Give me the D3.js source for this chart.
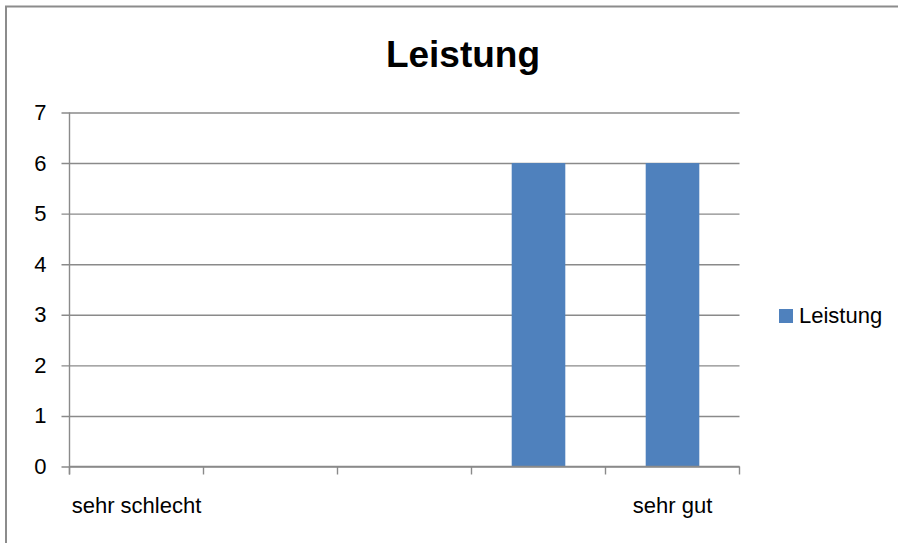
<!DOCTYPE html>
<html>
<head>
<meta charset="utf-8">
<script src="https://cdn.jsdelivr.net/npm/d3@7"></script>
<style>
  html, body { margin: 0; padding: 0; background: #fff; }
  svg { display: block; }
  text { font-family: "Liberation Sans", Arial, sans-serif; fill: #000; }
</style>
</head>
<body>
<svg id="chart" width="898" height="543"></svg>
<script>
const title = "Leistung";
const seriesName = "Leistung";
const categories = ["sehr schlecht", "", "", "", "sehr gut"];
const values = [0, 0, 0, 6, 6];
const yTicks = [0, 1, 2, 3, 4, 5, 6, 7];

const svg = d3.select("#chart");
const W = 898, H = 543;
const plot = { left: 69.5, right: 739.5, top: 112.5, bottom: 466.5 };
const gridColor = "#8a8a8a";
const barColor = "#4f81bd";

// outer border (extends beyond right / bottom edge)
svg.append("rect")
  .attr("x", 6).attr("y", 6.5)
  .attr("width", W + 10).attr("height", H + 10)
  .attr("fill", "#fff")
  .attr("stroke", "#8c8c8c").attr("stroke-width", 2);

const x = d3.scaleBand()
  .domain(d3.range(categories.length))
  .range([plot.left, plot.right])
  .paddingInner(0.6).paddingOuter(0.3);

const xCat = d3.scaleBand()
  .domain(d3.range(categories.length))
  .range([plot.left, plot.right]);

const y = d3.scaleLinear().domain([0, 7]).range([plot.bottom, plot.top]);

// gridlines + y ticks
const yAxis = d3.axisLeft(y).tickValues(yTicks).tickFormat(d3.format("d"))
  .tickSize(-(plot.right - plot.left)).tickPadding(16).tickSizeOuter(0);
const gy = svg.append("g").attr("transform", `translate(${plot.left},0)`).call(yAxis);
gy.select(".domain").remove();
gy.selectAll(".tick line").attr("stroke", gridColor).attr("stroke-width", 1.4).attr("x1", -8);
gy.selectAll(".tick text").attr("font-size", 22).attr("font-family", "Liberation Sans, Arial, sans-serif").attr("fill", "#000").attr("x", -23);

// y axis line
svg.append("line")
  .attr("x1", plot.left).attr("x2", plot.left)
  .attr("y1", plot.top).attr("y2", plot.bottom + 8)
  .attr("stroke", gridColor).attr("stroke-width", 1.4);

// x axis ticks at category boundaries
const bounds = d3.range(categories.length + 1).map(i => plot.left + i * xCat.step());
svg.append("g").selectAll("line").data(bounds).join("line")
  .attr("x1", d => d).attr("x2", d => d)
  .attr("y1", plot.bottom).attr("y2", plot.bottom + 8)
  .attr("stroke", gridColor).attr("stroke-width", 1.4);

// bars
svg.append("g").selectAll("rect").data(values).join("rect")
  .attr("x", (d, i) => x(i))
  .attr("width", x.bandwidth())
  .attr("y", d => y(d))
  .attr("height", d => y(0) - y(d))
  .attr("fill", barColor);

// x axis line drawn over bars
svg.append("line")
  .attr("x1", plot.left).attr("x2", plot.right)
  .attr("y1", plot.bottom).attr("y2", plot.bottom)
  .attr("stroke", gridColor).attr("stroke-width", 1.4);

// category labels
svg.append("g").selectAll("text").data(categories).join("text")
  .attr("x", (d, i) => xCat(i) + xCat.bandwidth() / 2)
  .attr("y", 513)
  .attr("text-anchor", "middle")
  .attr("font-size", 22)
  .text(d => d);

// title
svg.append("text")
  .attr("x", 463).attr("y", 67)
  .attr("text-anchor", "middle")
  .attr("font-size", 37).attr("font-weight", "bold")
  .text(title);

// legend
svg.append("rect").attr("x", 779).attr("y", 309).attr("width", 14).attr("height", 14).attr("fill", barColor);
svg.append("text").attr("x", 799).attr("y", 323).attr("font-size", 22).text(seriesName);
</script>
</body>
</html>
